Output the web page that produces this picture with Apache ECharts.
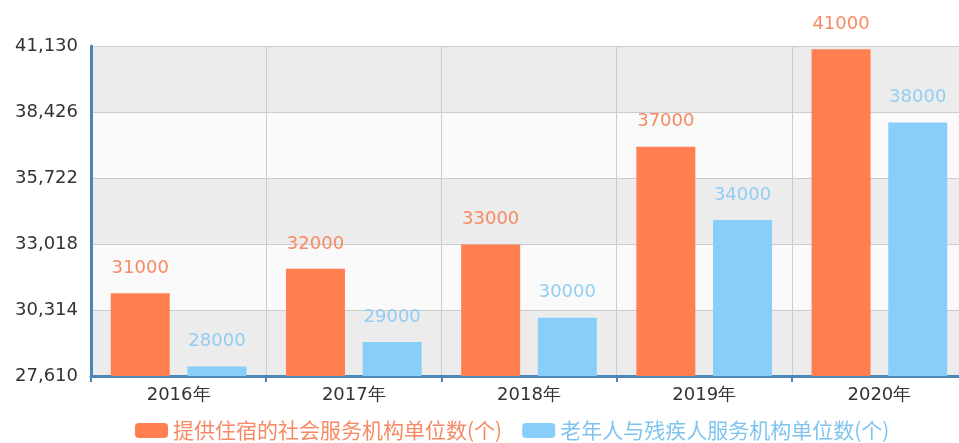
<!DOCTYPE html>
<html>
<head>
<meta charset="utf-8">
<script src="https://cdn.jsdelivr.net/npm/echarts@6/dist/echarts.min.js"></script>
<style>
  html, body { margin: 0; padding: 0; background: #fff; overflow: hidden; }
  #main { width: 968px; height: 443px; }
</style>
</head>
<body>
<div id="main"></div>
<script>
// 年份与两组机构数量
var years = ['2016年', '2017年', '2018年', '2019年', '2020年'];
var zhusu = [31000, 32000, 33000, 37000, 41000];
var laonian = [28000, 29000, 30000, 34000, 38000];
var seriesNames = ['提供住宿的社会服务机构单位数(个)', '老年人与残疾人服务机构单位数(个)'];
var yMin = 27610, yMax = 41130, yStep = 2704;

var myChart = echarts.init(document.getElementById('main'));
var numFont = 'DejaVu Sans, Liberation Sans, sans-serif';

var option = {
  animation: false,
  color: ['#ff7f50', '#87cefa'],
  grid: { left: 91, right: 1, top: 46, bottom: 67, containLabel: false },
  legend: {
    left: 130,
    bottom: -3,
    icon: 'roundRect',
    itemWidth: 33,
    itemHeight: 15,
    itemGap: 20,
    textStyle: { fontSize: 21, fontFamily: 'Noto Sans CJK SC, sans-serif' },
    data: [
      { name: seriesNames[0], textStyle: { color: '#f78a64' } },
      { name: seriesNames[1], textStyle: { color: '#7fc4ef' } }
    ]
  },
  xAxis: {
    type: 'category',
    data: years,
    axisLine: { lineStyle: { color: '#4a86b8', width: 3 } },
    axisTick: { show: true, length: 6, lineStyle: { color: '#4a86b8', width: 2 } },
    axisLabel: { color: '#333', fontSize: 18, fontFamily: numFont, margin: 10 },
    splitLine: { show: true, lineStyle: { color: '#cccccc', width: 1 } }
  },
  yAxis: {
    type: 'value',
    min: yMin,
    max: yMax,
    interval: yStep,
    axisLine: { show: true, lineStyle: { color: '#4a86b8', width: 3 } },
    axisTick: { show: false },
    axisLabel: {
      color: '#333', fontSize: 18, fontFamily: numFont, margin: 13,
      formatter: function (v) { return v.toLocaleString('en-US'); }
    },
    splitLine: { lineStyle: { color: '#cccccc', width: 1 } },
    splitArea: { show: true, areaStyle: { color: ['#ececec', '#fafafa'] } }
  },
  series: [
    {
      name: seriesNames[0],
      type: 'bar',
      data: zhusu,
      barWidth: 59,
      barGap: '30%',
      label: {
        show: true, position: 'top', distance: 16,
        color: '#f78a64', fontSize: 18, fontFamily: numFont
      }
    },
    {
      name: seriesNames[1],
      type: 'bar',
      data: laonian,
      barWidth: 59,
      barGap: '30%',
      label: {
        show: true, position: 'top', distance: 16,
        color: '#92cdf3', fontSize: 18, fontFamily: numFont
      }
    }
  ]
};

myChart.setOption(option);
</script>
</body>
</html>
